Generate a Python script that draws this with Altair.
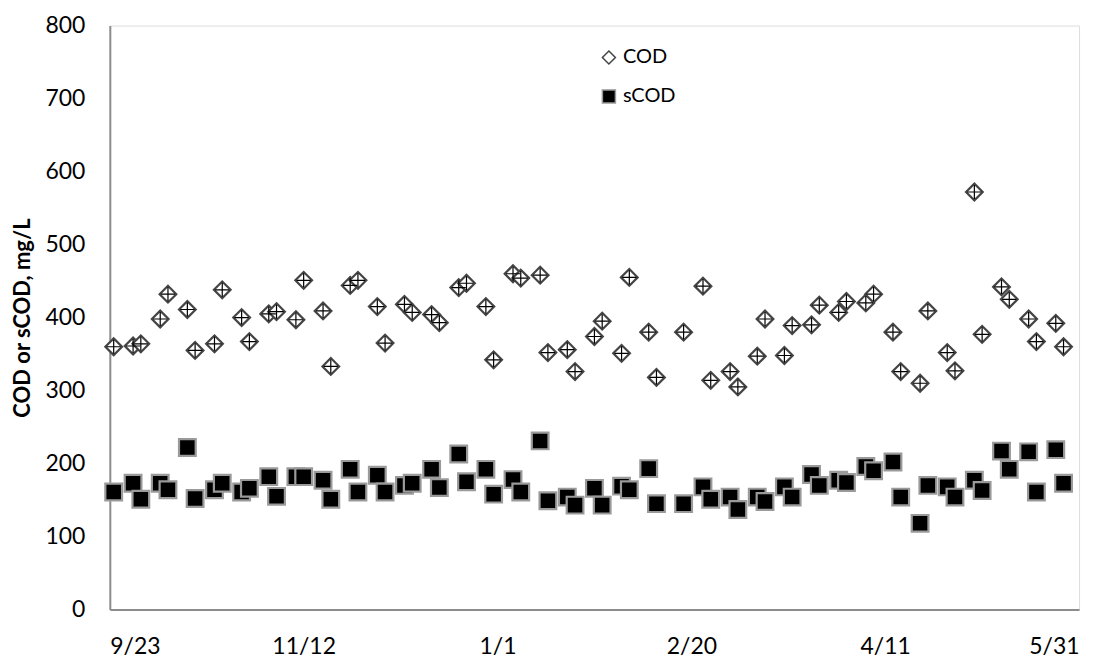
import altair as alt
import pandas as pd

# Sampling dates (Mon/Wed), 2014-09-24 .. 2015-05-27
dates = [
    "2014-09-24", "2014-09-29", "2014-10-01", "2014-10-06", "2014-10-08",
    "2014-10-13", "2014-10-15", "2014-10-20", "2014-10-22", "2014-10-27",
    "2014-10-29", "2014-11-03", "2014-11-05", "2014-11-10", "2014-11-12",
    "2014-11-17", "2014-11-19", "2014-11-24", "2014-11-26", "2014-12-01",
    "2014-12-03", "2014-12-08", "2014-12-10", "2014-12-15", "2014-12-17",
    "2014-12-22", "2014-12-24", "2014-12-29", "2014-12-31", "2015-01-05",
    "2015-01-07", "2015-01-12", "2015-01-14", "2015-01-19", "2015-01-21",
    "2015-01-26", "2015-01-28", "2015-02-02", "2015-02-04", "2015-02-09",
    "2015-02-11", "2015-02-18", "2015-02-23", "2015-02-25", "2015-03-02",
    "2015-03-04", "2015-03-09", "2015-03-11", "2015-03-16", "2015-03-18",
    "2015-03-23", "2015-03-25", "2015-03-30", "2015-04-01", "2015-04-06",
    "2015-04-08", "2015-04-13", "2015-04-15", "2015-04-20", "2015-04-22",
    "2015-04-27", "2015-04-29", "2015-05-04", "2015-05-06", "2015-05-11",
    "2015-05-13", "2015-05-18", "2015-05-20", "2015-05-25", "2015-05-27",
]

cod = [
    360, 361, 364, 398, 432, 411, 355, 364, 438, 400,
    367, 405, 408, 397, 451, 409, 333, 444, 451, 415,
    365, 418, 407, 404, 393, 441, 447, 415, 342, 460,
    454, 458, 352, 356, 326, 374, 395, 351, 455, 380,
    318, 380, 443, 314, 326, 305, 347, 398, 348, 389,
    390, 417, 407, 422, 420, 432, 380, 326, 310, 409,
    352, 327, 572, 377, 442, 425, 398, 367, 392, 360,
]

scod = [
    161, 173, 151, 173, 164, 222, 152, 164, 173, 161,
    166, 182, 155, 182, 182, 177, 151, 192, 161, 184,
    161, 170, 173, 192, 167, 213, 175, 192, 158, 178,
    161, 231, 149, 154, 143, 166, 143, 169, 164, 193,
    145, 145, 168, 151, 154, 137, 154, 148, 168, 154,
    185, 170, 177, 174, 196, 190, 202, 154, 118, 170,
    168, 154, 177, 163, 217, 192, 216, 161, 219, 173,
]

series_names = ["COD", "sCOD"]
series_shapes = ["diamond", "square"]
series_fills = ["white", "black"]
series_strokes = ["#444444", "#9a9a9a"]

y_ticks = [0, 100, 200, 300, 400, 500, 600, 700, 800]
x_tick_dates = [(2014, 9, 23), (2014, 11, 12), (2015, 1, 1),
                (2015, 2, 20), (2015, 4, 11), (2015, 5, 31)]

df = pd.DataFrame({
    "date": dates * 2,
    "value": cod + scod,
    "series": ["COD"] * len(cod) + ["sCOD"] * len(scod),
})

FONT = "Lato"


def dt(t):
    return alt.DateTime(year=t[0], month=t[1], date=t[2], utc=True)


x_enc = alt.X(
    "date:T",
    scale=alt.Scale(type="utc", domain=[dt(x_tick_dates[0]), dt(x_tick_dates[-1])]),
    axis=alt.Axis(
        values=[dt(t) for t in x_tick_dates],
        labelExpr="utcFormat(datum.value, '%-m/%-d')",
        title=None,
        ticks=False,
        labelPadding=26,
        labelFontSize=23,
        labelFont=FONT,
        labelColor="black",
        grid=False,
        domainColor="#8c8c8c",
        domainWidth=2,
    ),
)

y_enc = alt.Y(
    "value:Q",
    scale=alt.Scale(domain=[0, 800], nice=False, zero=True),
    axis=alt.Axis(
        values=y_ticks,
        title="COD or sCOD, mg/L",
        titleFont=FONT,
        titleFontSize=22,
        titleFontWeight="bold",
        titleColor="black",
        titlePadding=10,
        ticks=False,
        labelPadding=25,
        labelFontSize=23,
        labelFont=FONT,
        labelColor="black",
        grid=False,
        domainColor="#8c8c8c",
        domainWidth=2,
    ),
)

legend = alt.Legend(
    title=None,
    orient="none",
    legendX=490,
    legendY=22,
    labelFont=FONT,
    labelFontSize=20,
    labelColor="black",
    symbolSize=170,
    symbolStrokeWidth=1.5,
    rowPadding=19,
    labelOffset=4,
    padding=0,
)

points = alt.Chart(df).mark_point(opacity=1, size=280, strokeWidth=2.2).encode(
    x=x_enc,
    y=y_enc,
    shape=alt.Shape("series:N", scale=alt.Scale(domain=series_names, range=series_shapes), legend=legend),
    fill=alt.Fill("series:N", scale=alt.Scale(domain=series_names, range=series_fills), legend=legend),
    stroke=alt.Stroke("series:N", scale=alt.Scale(domain=series_names, range=series_strokes), legend=legend),
)

crosses = alt.Chart(df).transform_filter(alt.datum.series == "COD").mark_point(
    shape="M-1,0L1,0M0,-1L0,1", size=200, stroke="black", strokeWidth=1.2, opacity=1, fill=None
).encode(x=x_enc, y=y_enc)

chart = alt.layer(points, crosses).properties(
    width=971,
    height=585,
    autosize=alt.AutoSizeParams(type="none"),
    padding={"left": 102, "top": 17, "right": 25, "bottom": 55},
).configure_view(
    stroke="#222222", strokeWidth=1
).configure(background="white")

chart.save("out.html", embed_options={"renderer": "svg", "actions": False})
